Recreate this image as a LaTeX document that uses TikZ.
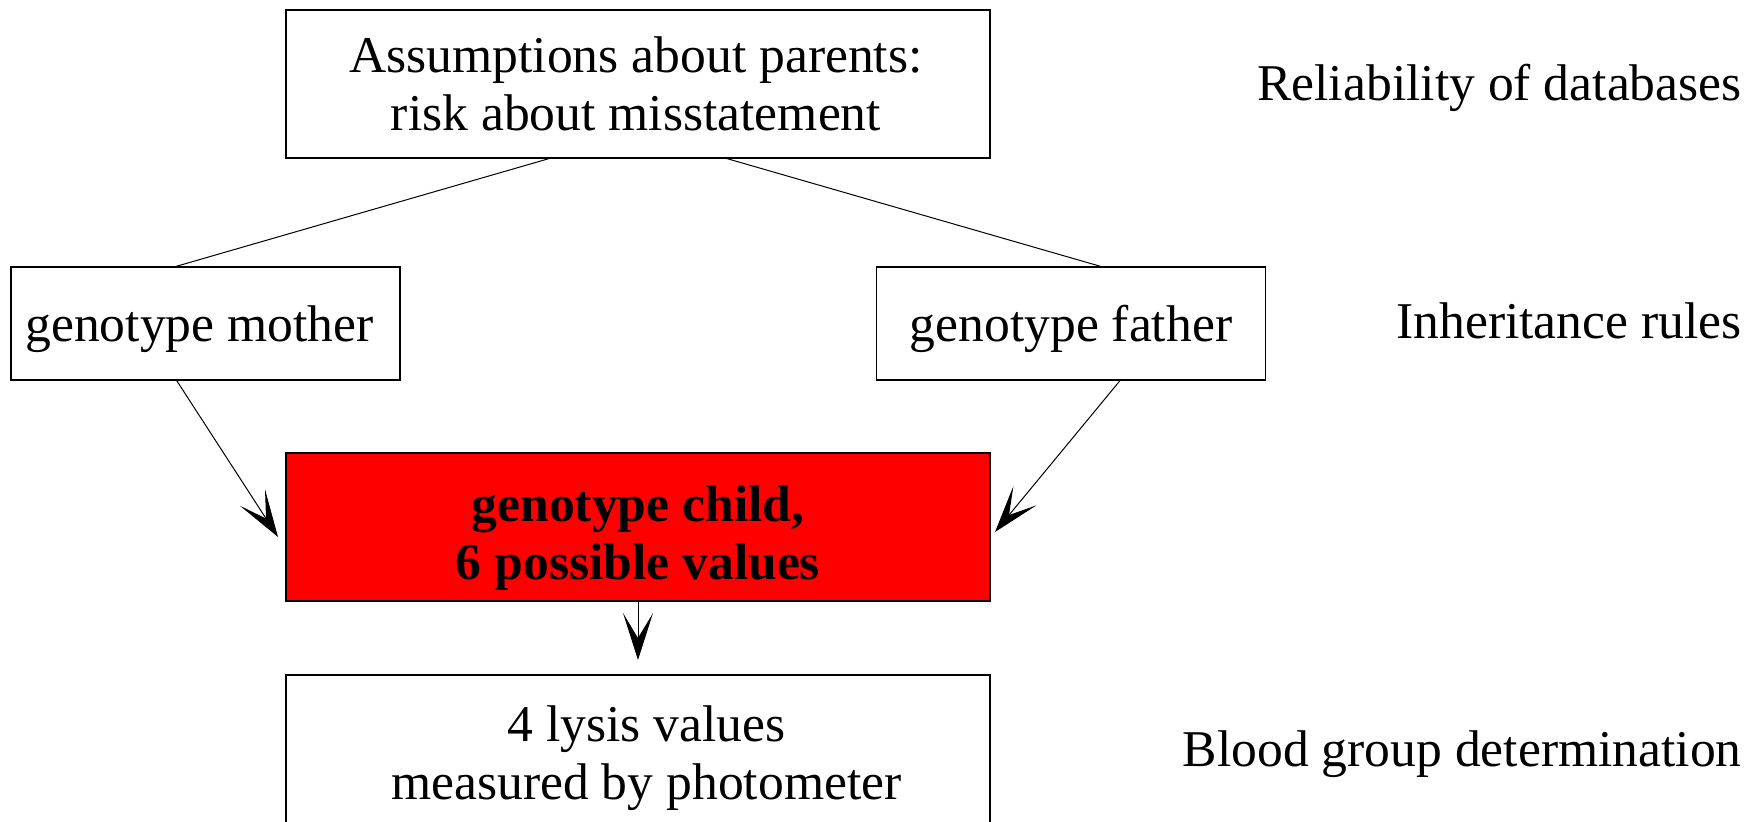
\documentclass[tikz,border=0pt]{standalone}
\usepackage{fontspec}
\setmainfont{Liberation Serif}
\usetikzlibrary{arrows.meta}
\newcommand\bigtext{\fontsize{25.8}{29}\selectfont}
\begin{document}
\begin{tikzpicture}[x=0.5pt,y=-0.5pt,
  box/.style={draw=black,line width=0.6pt,inner sep=0pt},
  widebox/.style={box,minimum width=352pt,minimum height=74pt},
  sidebox/.style={box,minimum width=194.5pt,minimum height=56.5pt},
  txt/.style={inner sep=0pt,align=center,font=\bigtext},
  tag/.style={inner sep=0pt,anchor=east,font=\bigtext},
  link/.style={line width=0.5pt},
  arr/.style={line width=0.5pt,-{Stealth[length=23.5pt,width=15pt,inset=12.5pt]}}]
\useasboundingbox (0,0) rectangle (1762,821);
\clip (0,0) rectangle (1762,821);

% boxes
\node[widebox] (assume) at (638,84) {};
\node[sidebox] (mother) at (205.5,323.5) {};
\node[sidebox] (father) at (1071,323.5) {};
\node[widebox,fill=red] (child) at (638,527) {};
\node[widebox] (lysis) at (638,749) {};

% box texts
\node[txt] (assumetext) at ([xshift=-1pt]assume.center) {Assumptions about parents:\\risk about misstatement};
\node[txt] (mothertext) at ([xshift=-3pt,yshift=-2.8pt]mother.center) {genotype mother};
\node[txt] (fathertext) at ([yshift=-2.8pt]father.center) {genotype father};
\node[txt,font=\bigtext\bfseries] (childtext) at ([yshift=-5.5pt]child.center) {genotype child,\\6 possible values};
\node[txt] (lysistext) at ([xshift=4.2pt,yshift=-4.5pt]lysis.center) {4 lysis values\\measured by photometer};

% level labels on the right
\node[tag] (rel) at (1742,87.4) {Reliability of databases};
\node[tag] (inh) at (1742,321.3) {Inheritance rules};
\node[tag] (blood) at (1742,754.6) {Blood group determination};

% connectors
\draw[link] ([xshift=-44.5pt]assume.south) -- ([xshift=-14.75pt]mother.north);
\draw[link] ([xshift=44.5pt]assume.south) -- ([xshift=14.85pt]father.north);

\coordinate (mtip) at (278,537);
\coordinate (ftip) at (995,532);
\coordinate (ctip) at (638,660);
\draw[arr] ([xshift=-14.4pt]mother.south) -- (mtip);
\draw[arr] ([xshift=24.5pt]father.south) -- (ftip);
\draw[arr] (child.south) -- (ctip);
\end{tikzpicture}
\end{document}
